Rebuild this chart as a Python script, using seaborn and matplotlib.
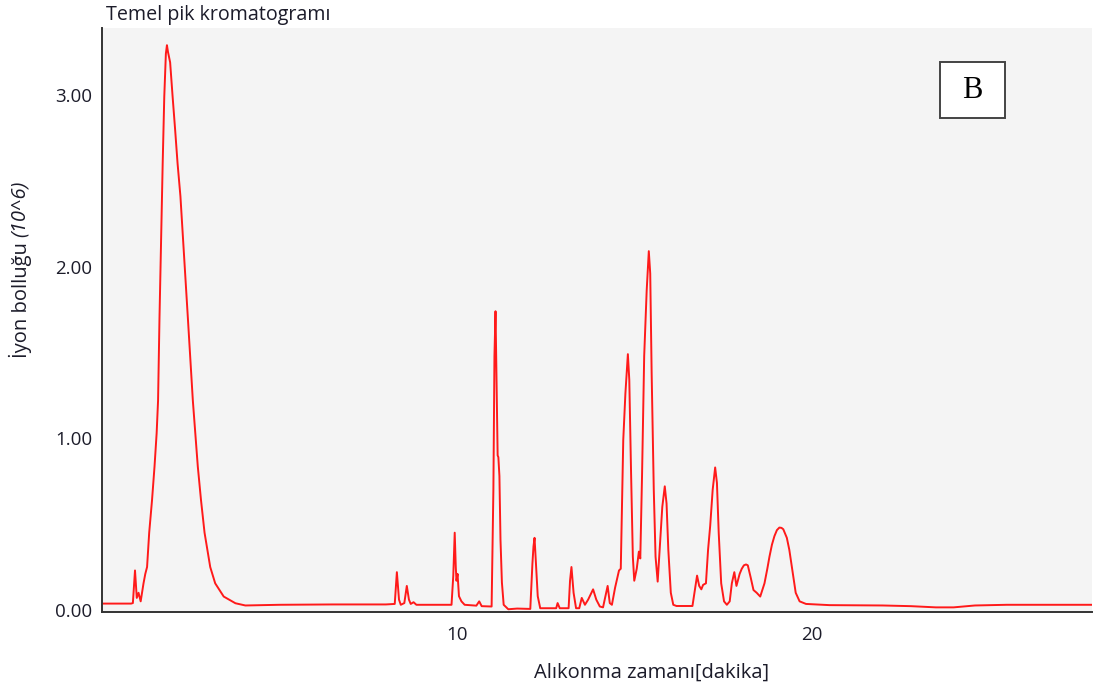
import matplotlib
matplotlib.use("Agg")
import matplotlib.pyplot as plt
import seaborn as sns
import pandas as pd
from matplotlib.ticker import FixedLocator, MultipleLocator, FuncFormatter
from matplotlib.patches import Rectangle

# ---- data (time [min], intensity [10^6]) ----
retention_time = [
    0.00, 0.82, 0.87, 0.93, 0.98, 1.03, 1.09, 1.17, 1.22, 1.27, 1.33, 1.41, 1.48,
    1.54, 1.58, 1.62, 1.67, 1.71, 1.755, 1.80, 1.83, 1.86, 1.92, 1.99, 2.06, 2.13,
    2.21, 2.27, 2.42, 2.56, 2.63, 2.70, 2.79, 2.89, 3.05, 3.19, 3.43, 3.76, 4.04,
    5.00, 6.50, 8.00, 8.25, 8.31, 8.37, 8.42,
    8.52, 8.59, 8.65, 8.70, 8.78, 8.86, 9.85, 9.90, 9.94, 9.97, 9.99, 10.02, 10.06,
    10.13, 10.22, 10.55, 10.63, 10.70, 10.98, 11.03, 11.06, 11.09, 11.12, 11.15,
    11.17, 11.20, 11.23, 11.27, 11.32, 11.45, 11.70, 12.07, 12.13, 12.16, 12.19,
    12.23, 12.28, 12.35, 12.80, 12.84, 12.90, 13.15, 13.19, 13.23, 13.29, 13.36,
    13.45, 13.52, 13.61, 13.70, 13.84, 13.93, 14.03, 14.12, 14.25, 14.31, 14.37,
    14.46, 14.57, 14.62, 14.69, 14.75, 14.82, 14.86, 14.91, 14.96, 15.00, 15.07,
    15.13, 15.17, 15.22, 15.28, 15.35, 15.41, 15.45, 15.49, 15.55, 15.60, 15.66,
    15.73, 15.79, 15.86, 15.91, 15.96, 16.03, 16.10, 16.19, 16.64, 16.71, 16.77,
    16.83, 16.89, 16.94, 17.02, 17.08, 17.14, 17.21, 17.28, 17.33, 17.38, 17.45,
    17.53, 17.61, 17.69, 17.75, 17.82, 17.88, 17.97, 18.03, 18.09, 18.15, 18.20,
    18.28, 18.36, 18.45, 18.55, 18.67, 18.75, 18.81, 18.88, 18.95, 19.02, 19.09,
    19.15, 19.20, 19.30, 19.37, 19.47, 19.55, 19.66, 19.84, 20.50, 22.00, 22.80,
    23.50, 24.00, 24.60, 25.50, 27.00, 27.90,
]
ion_abundance = [
    0.037, 0.037, 0.04, 0.23, 0.07, 0.10, 0.05, 0.155, 0.21, 0.25, 0.45, 0.64, 0.835,
    1.03, 1.22, 1.70, 2.21, 2.60, 2.99, 3.24, 3.29, 3.25, 3.19, 2.99, 2.80, 2.60,
    2.41, 2.21, 1.70, 1.22, 1.03, 0.835, 0.64, 0.45, 0.25, 0.155, 0.078, 0.039, 0.026,
    0.030, 0.032, 0.032, 0.035, 0.22, 0.06, 0.03,
    0.04, 0.14, 0.06, 0.035, 0.045, 0.03, 0.03, 0.20, 0.45, 0.25, 0.17, 0.21, 0.08,
    0.05, 0.03, 0.025, 0.05, 0.022, 0.02, 0.70, 1.48, 1.74, 1.30, 0.90,
    0.89, 0.78, 0.41, 0.16, 0.03, 0.004, 0.008, 0.006, 0.27, 0.37, 0.42,
    0.27, 0.08, 0.01, 0.01, 0.04, 0.01, 0.01, 0.17, 0.25, 0.10, 0.01,
    0.01, 0.07, 0.03, 0.06, 0.12, 0.06, 0.02, 0.015, 0.14, 0.04, 0.03,
    0.13, 0.23, 0.24, 0.99, 1.26, 1.49, 1.34, 0.80, 0.31, 0.17, 0.24,
    0.34, 0.30, 0.79, 1.48, 1.86, 2.09, 1.96, 1.38, 0.70, 0.31, 0.165,
    0.40, 0.60, 0.72, 0.62, 0.35, 0.10, 0.03, 0.023, 0.023, 0.117, 0.20,
    0.14, 0.12, 0.146, 0.155, 0.35, 0.49, 0.70, 0.83, 0.74, 0.45, 0.155,
    0.05, 0.03, 0.05, 0.155, 0.22, 0.14, 0.21, 0.24, 0.26, 0.265, 0.26,
    0.19, 0.116, 0.10, 0.078, 0.155, 0.24, 0.31, 0.38, 0.43, 0.465, 0.48,
    0.478, 0.47, 0.42, 0.35, 0.21, 0.10, 0.05, 0.035, 0.028, 0.026, 0.022,
    0.015, 0.015, 0.026, 0.03, 0.03, 0.03,
]
x_major_ticks = [10, 20]
y_major_ticks = [0, 1, 2, 3]
title_text = "Temel pik kromatogramı"
xlabel_text = "Alıkonma zamanı[dakika]"
ylabel_main = "İyon bolluğu"
ylabel_unit = "(10^6)"
panel_letter = "B"

df = pd.DataFrame({"t": retention_time, "v": ion_abundance})

sns.set_style("white")
plt.rcParams["font.family"] = ["Open Sans", "DejaVu Sans"]

W, H = 1096, 691
fig = plt.figure(figsize=(W / 100, H / 100), dpi=100)
fig.patch.set_facecolor("white")
ax = fig.add_axes([102 / W, 1 - 612 / H, (1092 - 102) / W, (612 - 28) / H])
ax.set_facecolor("#f4f4f4")

sns.lineplot(data=df, x="t", y="v", ax=ax, color="#ff1a1a", linewidth=1.4,
             estimator=None, sort=False)

ax.set_xlim(0, 27.9)
ax.set_ylim(-0.012, 3.39)
ax.set_xlabel("")
ax.set_ylabel("")

for s in ["top", "right"]:
    ax.spines[s].set_visible(False)
for s in ["left", "bottom"]:
    ax.spines[s].set_color("#333333")
    ax.spines[s].set_linewidth(1.4)

ax.xaxis.set_major_locator(FixedLocator(x_major_ticks))
ax.xaxis.set_minor_locator(MultipleLocator(2.5))
ax.yaxis.set_major_locator(FixedLocator(y_major_ticks))
ax.yaxis.set_minor_locator(MultipleLocator(0.25))
ax.yaxis.set_major_formatter(FuncFormatter(lambda v, p: f"{v:.2f}"))
ax.xaxis.set_major_formatter(FuncFormatter(lambda v, p: f"{v:g}"))

ax.tick_params(axis="both", which="major", direction="out", color="#333333",
               labelsize=13.5, labelcolor="#1c1c2a", width=1.3)
ax.tick_params(axis="x", which="major", length=7, pad=3)
ax.tick_params(axis="x", which="minor", length=4.5, width=1.3, color="#333333")
ax.tick_params(axis="y", which="major", length=6, pad=1)
ax.tick_params(axis="y", which="minor", length=5, width=1.3, color="#333333")

fig.text(106 / W, 1 - 15 / H, title_text, fontsize=14.2, color="#1c1c2a",
         ha="left", va="center")
fig.text(652 / W, 1 - 673 / H, xlabel_text, fontsize=14.5, color="#1c1c2a",
         ha="center", va="center")

# y label: regular part + italic unit
t1 = fig.text(20 / W, 1 - 358 / H, ylabel_main + " ", fontsize=14.5, color="#1c1c2a",
              rotation=90, ha="center", va="bottom")
fig.canvas.draw()
bb = t1.get_window_extent(renderer=fig.canvas.get_renderer())
fig.text(20 / W, bb.y1 / H, ylabel_unit, fontsize=14.5, color="#1c1c2a",
         rotation=90, ha="center", va="bottom", style="italic")

# panel letter box
ax.add_patch(Rectangle((940 / W, 1 - 118 / H), 65 / W, 56 / H, transform=fig.transFigure,
                       facecolor="white", edgecolor="#444444", linewidth=1.4, zorder=5))
fig.text(972 / W, 1 - 91 / H, panel_letter, fontsize=22, family="Liberation Serif",
         ha="center", va="center", color="black", zorder=6)

fig.savefig("out.png", dpi=100)
